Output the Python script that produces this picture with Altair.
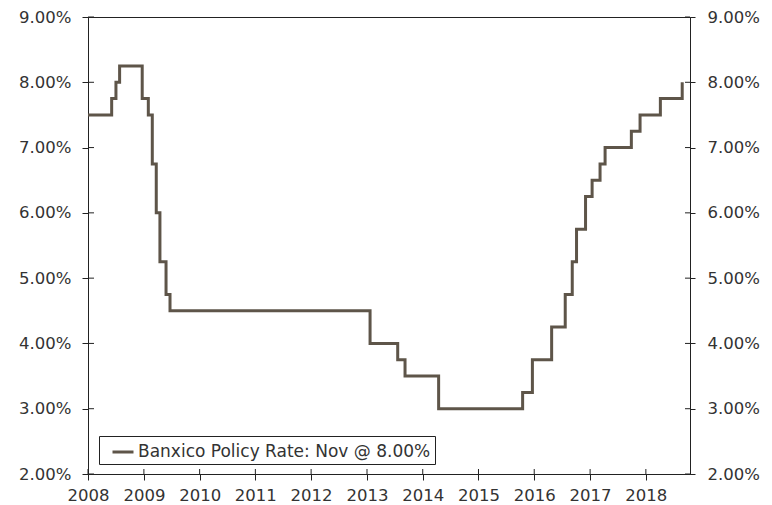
import altair as alt
import pandas as pd

# Banxico policy rate change dates and rate after each change (%)
change_dates = ["2008-01-01", "2008-06-04", "2008-07-02", "2008-07-26", "2008-12-21",
                "2009-01-30", "2009-02-25", "2009-03-23", "2009-04-16", "2009-05-26",
                "2009-06-21", "2013-01-21", "2013-07-21", "2013-09-07", "2014-04-15",
                "2015-10-17", "2015-12-20", "2016-04-24", "2016-07-22", "2016-09-06",
                "2016-10-04", "2016-12-02", "2017-01-14", "2017-03-07", "2017-04-09",
                "2017-09-28", "2017-11-24", "2018-04-06", "2018-08-27"]
rates = [7.50, 7.75, 8.00, 8.25, 7.75,
         7.50, 6.75, 6.00, 5.25, 4.75,
         4.50, 4.00, 3.75, 3.50, 3.00,
         3.25, 3.75, 4.25, 4.75, 5.25,
         5.75, 6.25, 6.50, 6.75, 7.00,
         7.25, 7.50, 7.75, 8.00]
series_label = "Banxico Policy Rate: Nov @ 8.00%"
y_ticks = [2, 3, 4, 5, 6, 7, 8, 9]
x_years = list(range(2008, 2019))
x_domain = ["2008-01-01", "2018-10-17"]

FONT = "DejaVu Sans"
TXT = "#333333"
AX = "#222222"
LINE = "#5e5549"
FS = 16.5

W, H = 602, 457

df = pd.DataFrame({"date": change_dates, "rate": rates, "series": series_label})
ydf = pd.DataFrame({"v": y_ticks})
xdf = pd.DataFrame({"d": [f"{y}-01-01" for y in x_years]})

xscale = alt.Scale(domain=x_domain)
yscale = alt.Scale(domain=[2, 9], nice=False, zero=False)
label_expr = "format(datum.value, '.2f') + '%'"

x_axis = alt.Axis(values=[alt.DateTime(year=y, month=1, date=1) for y in x_years],
                  format="%Y", labelFont=FONT, labelFontSize=FS, labelColor=TXT,
                  domainColor=AX, tickColor=AX, tickSize=6, labelPadding=7,
                  grid=False, labelFlush=False, labelOverlap=False)

line = alt.Chart(df).mark_line(strokeWidth=3, interpolate="step-after").encode(
    x=alt.X("date:T", scale=xscale, title=None, axis=x_axis),
    y=alt.Y("rate:Q", scale=yscale, title=None,
            axis=alt.Axis(values=y_ticks, labelExpr=label_expr, orient="left",
                          labelFont=FONT, labelFontSize=FS, labelColor=TXT,
                          domainColor=AX, tickColor=AX, tickSize=6, labelPadding=11,
                          grid=False, labelFlush=False)),
    color=alt.Color("series:N", scale=alt.Scale(range=[LINE]),
                    legend=alt.Legend(title=None, orient="none", legendX=11, legendY=419,
                                      symbolType="stroke", symbolStrokeWidth=3,
                                      symbolSize=441, symbolOffset=8,
                                      labelFont=FONT, labelFontSize=17,
                                      labelColor=TXT, strokeColor=AX, fillColor="white",
                                      padding=4, labelOffset=3, labelLimit=0)),
)

right_axis = alt.Chart(ydf).mark_rule(opacity=0).encode(
    y=alt.Y("v:Q", scale=yscale, title=None,
            axis=alt.Axis(values=y_ticks, labelExpr=label_expr, orient="right",
                          labelFont=FONT, labelFontSize=FS, labelColor=TXT,
                          domainColor=AX, tickColor=AX, tickSize=5, labelPadding=12,
                          grid=False, labelFlush=False)),
    x=alt.value(0), x2=alt.value(1),
)

left_in = alt.Chart(ydf).mark_rule(color=AX, strokeWidth=1).encode(
    y=alt.Y("v:Q", scale=yscale, axis=None), x=alt.value(0), x2=alt.value(6))
right_in = alt.Chart(ydf).mark_rule(color=AX, strokeWidth=1).encode(
    y=alt.Y("v:Q", scale=yscale, axis=None), x=alt.value(W - 5), x2=alt.value(W))
bottom_in = alt.Chart(xdf).mark_rule(color=AX, strokeWidth=1).encode(
    x=alt.X("d:T", scale=xscale, title=None, axis=x_axis), y=alt.value(H - 5), y2=alt.value(H))

chart = alt.layer(left_in, right_in, bottom_in, line, right_axis).resolve_scale(
    y="independent"
).properties(
    width=W, height=H,
    autosize=alt.AutoSizeParams(type="none"),
    padding={"left": 88, "top": 17, "right": 82, "bottom": 31},
).configure(
    background="white",
    view=alt.ViewConfig(stroke=AX, strokeWidth=1),
)

chart.save("out.html", embed_options={"renderer": "svg", "actions": False})
